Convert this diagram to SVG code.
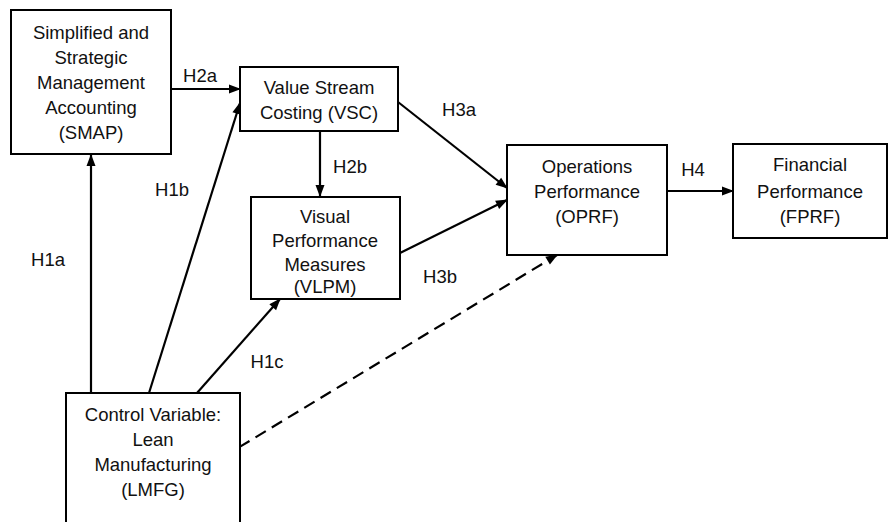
<svg xmlns="http://www.w3.org/2000/svg" width="892" height="522" viewBox="0 0 892 522">
  <style>
    .box { fill: #ffffff; stroke: #000000; stroke-width: 2; }
    .lbl { font-family: "Liberation Sans", Arial, sans-serif; font-size: 18.5px; fill: #111111; text-anchor: middle; }
    .edge { stroke: #000000; stroke-width: 2.2; fill: none; marker-end: url(#arrow); }
    .dash { stroke-dasharray: 12 7; }
  </style>
  <defs>
    <marker id="arrow" viewBox="0 0 12 10" refX="11" refY="5" markerWidth="12" markerHeight="10" markerUnits="userSpaceOnUse" orient="auto" overflow="visible">
      <path d="M0,0.5 L12,5 L0,9.5 z" fill="#000000"/>
    </marker>
  </defs>
  <rect width="892" height="522" fill="#ffffff"/>

  <g id="connectors">
    <line class="edge" x1="171" y1="89" x2="240" y2="89"/>
    <line class="edge" x1="91" y1="393" x2="91" y2="155"/>
    <line class="edge" x1="149" y1="393" x2="240" y2="103"/>
    <line class="edge" x1="197" y1="393" x2="280" y2="299"/>
    <line class="edge" x1="320" y1="131" x2="320" y2="196"/>
    <line class="edge" x1="398" y1="102" x2="507" y2="188"/>
    <line class="edge" x1="400" y1="253" x2="507" y2="200"/>
    <line class="edge dash" x1="223" y1="457" x2="557" y2="255"/>
    <line class="edge" x1="667" y1="191" x2="733" y2="191"/>
    <g class="lbl">
      <text x="200" y="82">H2a</text>
      <text x="48" y="266">H1a</text>
      <text x="172" y="196">H1b</text>
      <text x="267" y="368">H1c</text>
      <text x="350" y="173">H2b</text>
      <text x="459" y="116">H3a</text>
      <text x="440" y="283">H3b</text>
      <text x="693" y="176">H4</text>
    </g>
  </g>

  <g id="smap">
    <rect class="box" x="11" y="10" width="160" height="144"/>
    <text class="lbl" x="91" y="39">Simplified and</text>
    <text class="lbl" x="91" y="64">Strategic</text>
    <text class="lbl" x="91" y="89">Management</text>
    <text class="lbl" x="91" y="114">Accounting</text>
    <text class="lbl" x="91" y="139">(SMAP)</text>
  </g>

  <g id="vsc">
    <rect class="box" x="240" y="67" width="158" height="64"/>
    <text class="lbl" x="319" y="94">Value Stream</text>
    <text class="lbl" x="319" y="119">Costing (VSC)</text>
  </g>

  <g id="vlpm">
    <rect class="box" x="251" y="197" width="149" height="102"/>
    <text class="lbl" x="325" y="223">Visual</text>
    <text class="lbl" x="325" y="247">Performance</text>
    <text class="lbl" x="325" y="271">Measures</text>
    <text class="lbl" x="325" y="293">(VLPM)</text>
  </g>

  <g id="oprf">
    <rect class="box" x="507" y="145" width="160" height="110"/>
    <text class="lbl" x="587" y="173">Operations</text>
    <text class="lbl" x="587" y="198">Performance</text>
    <text class="lbl" x="587" y="223">(OPRF)</text>
  </g>

  <g id="fprf">
    <rect class="box" x="733" y="144" width="154" height="94"/>
    <text class="lbl" x="810" y="171">Financial</text>
    <text class="lbl" x="810" y="198">Performance</text>
    <text class="lbl" x="810" y="223">(FPRF)</text>
  </g>

  <g id="lmfg">
    <rect class="box" x="66" y="393" width="174" height="140"/>
    <text class="lbl" x="153" y="421">Control Variable:</text>
    <text class="lbl" x="153" y="446">Lean</text>
    <text class="lbl" x="153" y="471">Manufacturing</text>
    <text class="lbl" x="153" y="496">(LMFG)</text>
  </g>
</svg>
